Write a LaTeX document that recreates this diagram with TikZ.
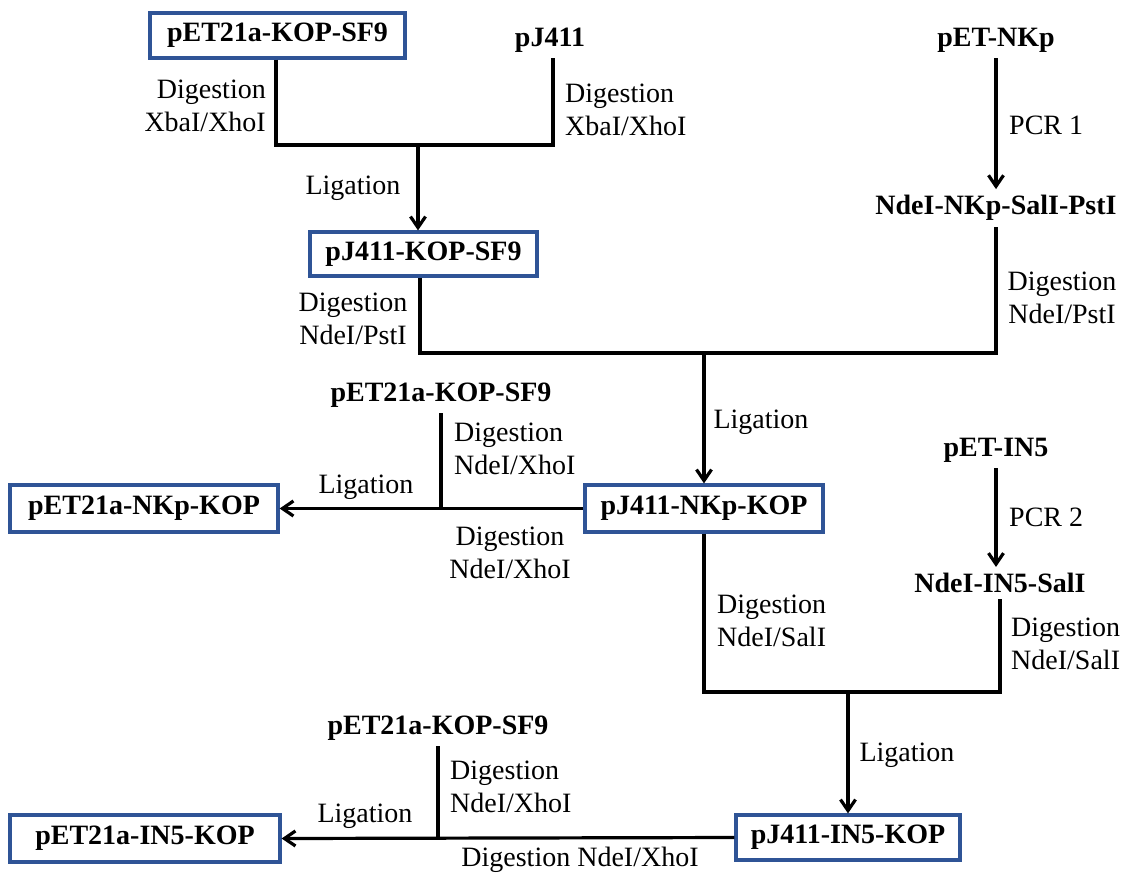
\documentclass[tikz,border=0pt]{standalone}
\usepackage{fontspec}
\setmainfont{Liberation Serif}
\usetikzlibrary{positioning,arrows.meta}
\definecolor{boxblue}{RGB}{47,84,150}

\begin{document}
\begin{tikzpicture}[
        x=1pt, y=-1pt,
        every node/.style={font=\fontsize{28}{33}\selectfont},
        block/.style={draw=boxblue, line width=3.2pt, inner sep=0pt,
                      font=\fontsize{28}{33}\selectfont\bfseries},
        plasmid/.style={inner sep=6pt, font=\fontsize{28}{33}\selectfont\bfseries},
        step label/.style={align=left, inner sep=0pt},
        line/.style={line width=3.2pt},
        arrow/.style={line width=3.2pt, -{Straight Barb[length=11pt,width=15pt]}}
    ]
        \useasboundingbox (0,0) rectangle (1126,878);

        % constructs in boxes
        \node[block, minimum width=255pt, minimum height=45pt] (kopsf)   at (277.5,35.5) {pET21a-KOP-SF9};
        \node[block, minimum width=227pt, minimum height=44pt] (jkopsf)  at (423.5,254)  {pJ411-KOP-SF9};
        \node[block, minimum width=238pt, minimum height=47pt] (jnkp)    at (704,508.5)  {pJ411-NKp-KOP};
        \node[block, minimum width=268pt, minimum height=47pt] (etnkp)   at (144,508.5)  {pET21a-NKp-KOP};
        \node[block, minimum width=224pt, minimum height=45pt] (jin)     at (848,837.5)  {pJ411-IN5-KOP};
        \node[block, minimum width=270pt, minimum height=47pt] (etin)    at (145,838.5)  {pET21a-IN5-KOP};

        % plain constructs
        \node[plasmid] (pj)      at (550,40)  {pJ411};
        \node[plasmid] (petnkp)  at (996,40)  {pET-NKp};
        \node[plasmid] (nkppcr)  at (996,208) {NdeI-NKp-SalI-PstI};
        \node[plasmid] (kopsfb)  at (441,395) {pET21a-KOP-SF9};
        \node[plasmid] (petin)   at (996,450) {pET-IN5};
        \node[plasmid] (inpcr)   at (1000,583) {NdeI-IN5-SalI};
        \node[plasmid] (kopsfc)  at (438,728) {pET21a-KOP-SF9};

        % junctions
        \coordinate (j1) at (418,145);
        \coordinate (j2) at (704,353);
        \coordinate (j3) at (848,692);

        \draw[line] (kopsf.south -| 276,0) |- (j1) -| (pj.south -| 553,0);
        \draw[arrow] (j1) -- (j1 |- jkopsf.north);
        \draw[arrow] (petnkp.south) -- (nkppcr.north);
        \draw[line] (jkopsf.south -| 420,0) |- (j2) -| (nkppcr.south);
        \draw[arrow] (j2) -- (jnkp.north);
        \draw[arrow] (jnkp.west) -- (etnkp.east);
        \draw[line] (kopsfb.south) -- (kopsfb.south |- jnkp.west);
        \draw[arrow] (petin.south) -- (petin.south |- inpcr.north);
        \draw[line] (jnkp.south) |- (j3) -| (inpcr.south);
        \draw[arrow] (j3) -- (jin.north);
        \draw[arrow] (jin.west) -- (etin.east);
        \draw[line] (kopsfc.south) -- (kopsfc.south |- jin.west);

        % step labels
        \node[step label, align=right, anchor=east] at (266,106) {Digestion\\XbaI/XhoI};
        \node[step label, anchor=west] at (565,110) {Digestion\\XbaI/XhoI};
        \node at (353,188) {Ligation};
        \node[step label, anchor=west] at (1009,125) {PCR 1};
        \node[step label, align=center] at (353,319) {Digestion\\NdeI/PstI};
        \node[step label, align=center] at (1062,298) {Digestion\\NdeI/PstI};
        \node at (761,422) {Ligation};
        \node[step label, anchor=west] at (454,449) {Digestion\\NdeI/XhoI};
        \node at (366,487) {Ligation};
        \node[step label, align=center] at (510,553) {Digestion\\NdeI/XhoI};
        \node[step label, anchor=west] at (1009,517) {PCR 2};
        \node[step label, anchor=west] at (717,621) {Digestion\\NdeI/SalI};
        \node[step label, anchor=west] at (1011,644) {Digestion\\NdeI/SalI};
        \node at (907,755) {Ligation};
        \node[step label, anchor=west] at (450,787) {Digestion\\NdeI/XhoI};
        \node at (365,816) {Ligation};
        \node at (580,860) {Digestion NdeI/XhoI};
    \end{tikzpicture}
\end{document}
